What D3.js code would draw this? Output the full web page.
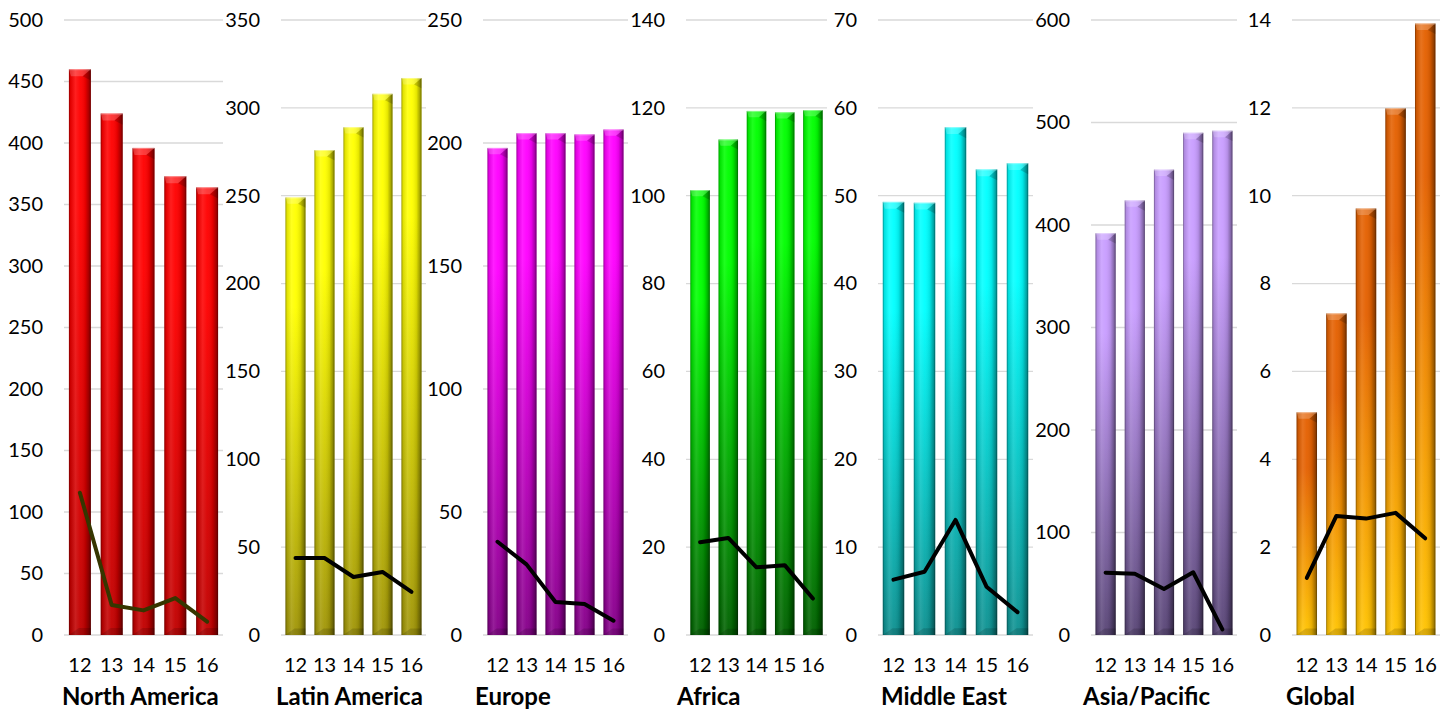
<!DOCTYPE html>
<html>
<head>
<meta charset="utf-8">
<script src="https://cdn.jsdelivr.net/npm/d3@7"></script>
<style>
  html, body { margin: 0; padding: 0; background: #fff; }
  svg { display: block; }
  text { font-family: Lato, "Open Sans", sans-serif; fill: #000; }
</style>
</head>
<body>
<svg id="chart" width="1449" height="709"></svg>
<script>
// ---- data ----
const years = ["12", "13", "14", "15", "16"];
const regions = ["North America", "Latin America", "Europe", "Africa", "Middle East", "Asia/Pacific", "Global"];
const barNorthAmerica = [460, 424, 396, 373, 364];
const barLatinAmerica = [249, 276, 289, 308, 317];
const barEurope = [198, 204, 204, 203.5, 205.5];
const barAfrica = [101.3, 112.8, 119.3, 119, 119.5];
const barMiddleEast = [49.3, 49.2, 57.8, 53, 53.7];
const barAsiaPacific = [392, 424, 454, 490, 492];
const barGlobal = [5.07, 7.32, 9.71, 11.99, 13.92];
const lineNorthAmerica = [115.7, 24.4, 20, 30, 10.8];
const lineLatinAmerica = [43.8, 43.8, 33, 35.9, 24.5];
const lineEurope = [37.9, 28.7, 13.4, 12.6, 5.8];
const lineAfrica = [21.1, 22.1, 15.4, 15.9, 8.3];
const lineMiddleEast = [6.3, 7.2, 13.1, 5.5, 2.6];
const lineAsiaPacific = [60.8, 59.8, 44.9, 61.2, 5.5];
const lineGlobal = [1.30, 2.71, 2.65, 2.78, 2.20];
const axisMax = [500, 350, 250, 140, 70, 600, 14];
const tickStep = [50, 50, 50, 20, 10, 100, 2];

const barSeries = [barNorthAmerica, barLatinAmerica, barEurope, barAfrica, barMiddleEast, barAsiaPacific, barGlobal];
const lineSeries = [lineNorthAmerica, lineLatinAmerica, lineEurope, lineAfrica, lineMiddleEast, lineAsiaPacific, lineGlobal];

// ---- layout & styles ----
const panelLayout = [
  { x0: 64, x1: 223, titleX: 62 },
  { x0: 281, x1: 426, titleX: 276 },
  { x0: 483, x1: 628, titleX: 475 },
  { x0: 686, x1: 827, titleX: 677 },
  { x0: 878, x1: 1033, titleX: 881 },
  { x0: 1091, x1: 1237, titleX: 1083 },
  { x0: 1292, x1: 1440, titleX: 1286 }
];
const barColors = [
  { top: "#ff0000", bottom: "#c00000" },
  { top: "#ffff00", bottom: "#a09508" },
  { top: "#ff00ff", bottom: "#840088" },
  { top: "#00ff00", bottom: "#006000" },
  { top: "#00ffff", bottom: "#0e9090" },
  { top: "#c89dff", bottom: "#584575" },
  { top: "#e46000", bottom: "#ffc400" }
];
const lineColors = ["#363600", "#000", "#000", "#000", "#000", "#000", "#000"];
const yTop = 20, yBottom = 635;
const tickFont = 20, titleFont = 24;

const svg = d3.select("#chart");
const defs = svg.append("defs");

// cylinder-like horizontal shading shared by all bars
const shade = defs.append("linearGradient").attr("id", "shade")
  .attr("x1", "0").attr("x2", "1").attr("y1", "0").attr("y2", "0");
[
  [0, "#000", 0.45], [0.07, "#000", 0.12], [0.3, "#fff", 0.12], [0.5, "#fff", 0.04],
  [0.75, "#000", 0.1], [0.92, "#000", 0.35], [1, "#000", 0.6]
].forEach(([o, c, a]) => shade.append("stop").attr("offset", o).attr("stop-color", c).attr("stop-opacity", a));

regions.forEach((region, i) => {
  const L = panelLayout[i];
  const g = svg.append("g");

  const grad = defs.append("linearGradient").attr("id", "fill" + i)
    .attr("x1", "0").attr("x2", "0").attr("y1", "0").attr("y2", "1");
  grad.append("stop").attr("offset", 0).attr("stop-color", barColors[i].top);
  grad.append("stop").attr("offset", 0.25).attr("stop-color", barColors[i].top);
  grad.append("stop").attr("offset", 1).attr("stop-color", barColors[i].bottom);

  const x = d3.scaleBand().domain(years).range([L.x0, L.x1]).paddingInner(0.31).paddingOuter(0.155);
  const y = d3.scaleLinear().domain([0, axisMax[i]]).range([yBottom, yTop]);
  const ticks = d3.range(0, axisMax[i] + tickStep[i] / 2, tickStep[i]);

  // gridlines
  g.selectAll("line.grid").data(ticks).join("line")
    .attr("x1", L.x0).attr("x2", L.x1)
    .attr("y1", d => y(d)).attr("y2", d => y(d))
    .attr("stroke", "#d9d9d9").attr("stroke-width", 1.3);

  // value axis labels
  const yAxis = d3.axisLeft(y).tickValues(ticks).tickSize(0).tickPadding(21).tickFormat(d3.format("d"));
  const ya = g.append("g").attr("transform", `translate(${L.x0},0)`).call(yAxis);
  ya.select(".domain").remove();
  ya.selectAll("text").attr("font-size", tickFont).attr("font-family", "Lato, 'Open Sans', sans-serif").attr("fill", "#000");

  // category axis labels
  const xAxis = d3.axisBottom(x).tickSize(0).tickPadding(23);
  const xa = g.append("g").attr("transform", `translate(0,${yBottom})`).call(xAxis);
  xa.select(".domain").remove();
  xa.selectAll("text").attr("font-size", tickFont).attr("font-family", "Lato, 'Open Sans', sans-serif").attr("fill", "#000");

  // bars
  const vals = barSeries[i];
  const bw = x.bandwidth();
  const bars = g.selectAll("g.bar").data(years.map((yr, k) => ({ yr, v: vals[k] }))).join("g");
  bars.append("rect")
    .attr("x", d => x(d.yr)).attr("y", d => y(d.v))
    .attr("width", bw).attr("height", d => y(0) - y(d.v))
    .attr("fill", `url(#fill${i})`);
  bars.append("rect")
    .attr("x", d => x(d.yr)).attr("y", d => y(d.v))
    .attr("width", bw).attr("height", d => y(0) - y(d.v))
    .attr("fill", "url(#shade)");
  // bevelled top
  const bev = bw * 0.32;
  bars.append("path")
    .attr("d", d => {
      const x0 = x(d.yr), x1 = x0 + bw, t = y(d.v), xc = x0 + bw / 2;
      return `M${x0},${t}L${x1},${t}L${xc + bev * 0.4},${t + bev}L${x0 + 2},${t + bev}Z`;
    })
    .attr("fill", "#fff").attr("opacity", 0.2);
  bars.append("path")
    .attr("d", d => {
      const x0 = x(d.yr), x1 = x0 + bw, t = y(d.v), xc = x0 + bw / 2;
      return `M${x1},${t}L${xc + bev * 0.4},${t + bev}L${x1},${t + bev * 1.6}Z`;
    })
    .attr("fill", "#000").attr("opacity", 0.18);
  // bevelled bottom
  bars.append("path")
    .attr("d", d => {
      const x0 = x(d.yr), x1 = x0 + bw, b = y(0);
      return `M${x0},${b}L${x1},${b}L${x1},${b - bev}L${x0 + bw * 0.45},${b - bev}Z`;
    })
    .attr("fill", "#000").attr("opacity", 0.14);
  bars.append("line")
    .attr("x1", d => x(d.yr)).attr("x2", d => x(d.yr) + bw)
    .attr("y1", d => y(d.v) + 0.5).attr("y2", d => y(d.v) + 0.5)
    .attr("stroke", "#fff").attr("stroke-opacity", 0.35).attr("stroke-width", 1);

  // trend line
  const line = d3.line().x((d, k) => x(years[k]) + bw / 2).y(d => y(d));
  g.append("path").datum(lineSeries[i])
    .attr("d", line)
    .attr("fill", "none").attr("stroke", lineColors[i])
    .attr("stroke-width", 4).attr("stroke-linejoin", "round").attr("stroke-linecap", "round");

  // region title
  g.append("text").attr("x", L.titleX).attr("y", 705)
    .attr("font-size", titleFont).attr("font-weight", "bold").text(region);
});
</script>
</body>
</html>
